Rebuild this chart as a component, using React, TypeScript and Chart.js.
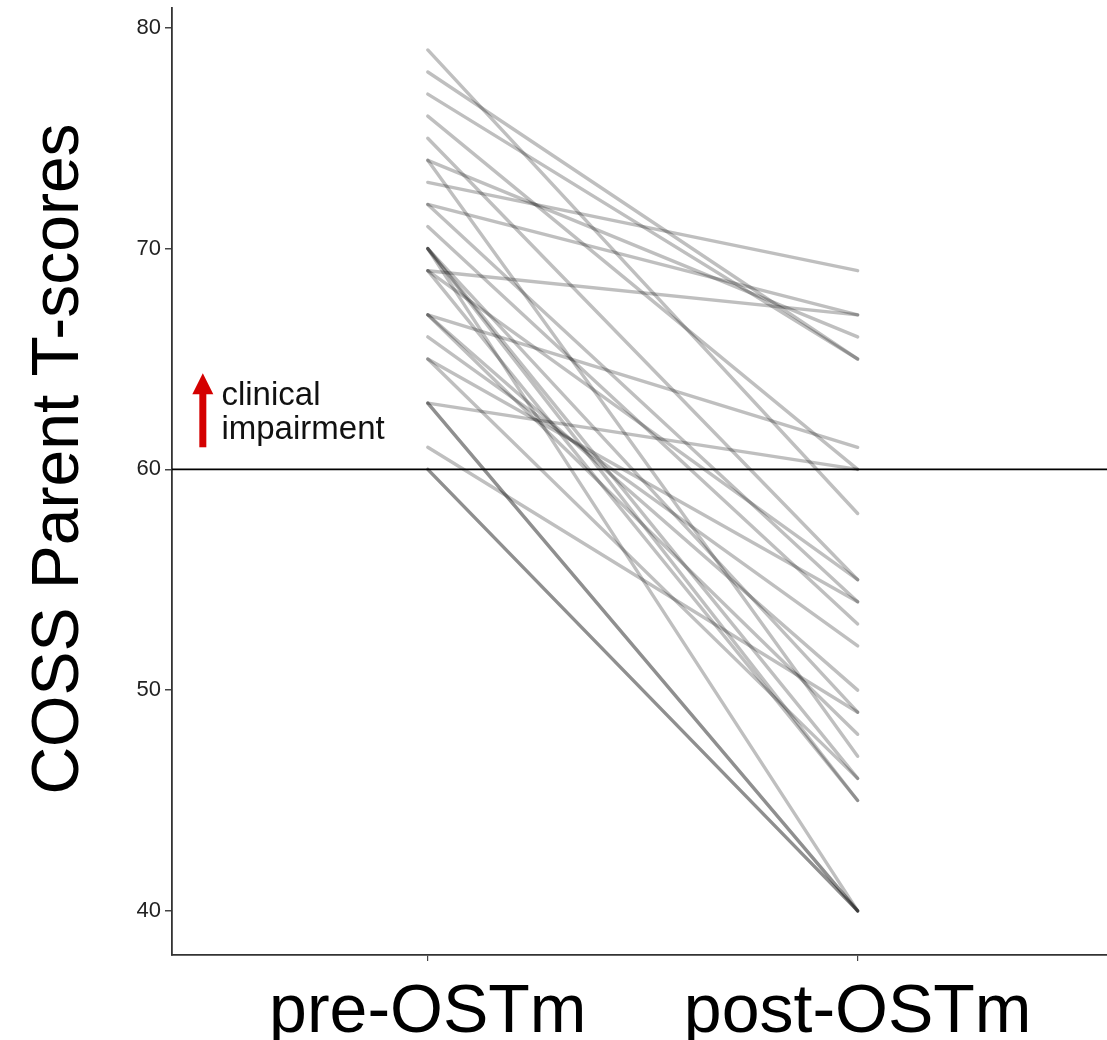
import React, { useEffect, useRef } from 'react';
import { Chart, registerables } from 'chart.js';

Chart.register(...registerables);

const timepoints = ['pre-OSTm', 'post-OSTm'];
const preScores = [79, 78, 77, 76, 75, 74, 74, 73, 72, 72, 71, 70, 70, 70, 70, 69, 69, 69, 67, 67, 67, 66, 65, 65, 63, 63, 63, 61, 60, 60];
const postScores = [58, 65, 65, 60, 55, 66, 47, 69, 54, 67, 53, 40, 49, 46, 45, 67, 45, 55, 61, 48, 50, 52, 54, 46, 40, 40, 60, 49, 40, 40];
const yTickValues = [40, 50, 60, 70, 80];
const clinicalCutoff = 60;
const annotationLines = ['clinical', 'impairment'];
const yTitle = 'COSS Parent T-scores';

const X_MIN = -0.595;
const X_MAX = 1.58;
const Y_MIN = 38.0;
const Y_MAX = 80.9;
const FONT = '"Liberation Sans", Arial, Helvetica, sans-serif';

const annotationPlugin = {
  id: 'annot',
  afterDatasetsDraw(chart: any) {
    const { ctx, scales } = chart;
    const xs = scales.x;
    const ys = scales.y;
    ctx.save();
    const ax = xs.getPixelForValue(-0.5233);
    const yBase = ys.getPixelForValue(61.0);
    const yHeadBase = ys.getPixelForValue(63.4);
    const yTip = ys.getPixelForValue(64.35);
    ctx.fillStyle = '#d40000';
    ctx.fillRect(ax - 3.5, yHeadBase - 1, 7, yBase - yHeadBase + 1);
    ctx.beginPath();
    ctx.moveTo(ax - 10.5, yHeadBase);
    ctx.lineTo(ax + 10.5, yHeadBase);
    ctx.lineTo(ax, yTip);
    ctx.closePath();
    ctx.fill();
    ctx.fillStyle = '#111';
    ctx.font = `33px ${FONT}`;
    ctx.textAlign = 'left';
    ctx.textBaseline = 'alphabetic';
    const tx = xs.getPixelForValue(-0.48);
    ctx.fillText(annotationLines[0], tx, ys.getPixelForValue(62.9));
    ctx.fillText(annotationLines[1], tx, ys.getPixelForValue(61.36));
    ctx.restore();
  },
  afterDraw(chart: any) {
    const { ctx } = chart;
    ctx.save();
    ctx.translate(78, 459);
    ctx.rotate(-Math.PI / 2);
    ctx.fillStyle = '#000';
    ctx.font = `66px ${FONT}`;
    ctx.textAlign = 'center';
    ctx.textBaseline = 'alphabetic';
    ctx.fillText(yTitle, 0, 0);
    ctx.restore();
  },
};

export default function App() {
  const ref = useRef<HTMLCanvasElement>(null);
  useEffect(() => {
    document.body.style.margin = '0';
    const canvas = ref.current!;
    const datasets: any[] = preScores.map((p, i) => ({
      data: [
        { x: 0, y: p },
        { x: 1, y: postScores[i] },
      ],
      borderColor: 'rgba(0,0,0,0.25)',
      borderWidth: 3.4,
      borderCapStyle: 'round',
      pointRadius: 0,
      fill: false,
      order: 1,
    }));
    datasets.push({
      data: [
        { x: X_MIN, y: clinicalCutoff },
        { x: X_MAX, y: clinicalCutoff },
      ],
      borderColor: '#000',
      borderWidth: 1.8,
      pointRadius: 0,
      fill: false,
      order: 0,
    });
    const chart = new Chart(canvas, {
      type: 'line',
      data: { datasets },
      plugins: [annotationPlugin],
      options: {
        animation: false,
        responsive: false,
        maintainAspectRatio: false,
        parsing: false as any,
        layout: { padding: { top: 8, left: 0, right: 0, bottom: 0 } },
        plugins: { legend: { display: false }, tooltip: { enabled: false }, title: { display: false } },
        elements: { line: { tension: 0 } },
        scales: {
          x: {
            type: 'linear',
            min: X_MIN,
            max: X_MAX,
            offset: false,
            afterBuildTicks: (s: any) => {
              s.ticks = [{ value: 0 }, { value: 1 }];
            },
            afterFit: (s: any) => {
              s.height = 85;
              s.paddingLeft = 0;
              s.paddingRight = 0;
            },
            ticks: {
              autoSkip: false,
              maxRotation: 0,
              padding: 11,
              color: '#000',
              font: { family: FONT, size: 68 },
              callback: (v: any) => (v === 0 ? timepoints[0] : v === 1 ? timepoints[1] : ''),
            },
            grid: { drawOnChartArea: false, drawTicks: true, tickLength: 6, color: '#444', lineWidth: 1.2 },
            border: { display: true, color: '#333', width: 1.8 },
          },
          y: {
            type: 'linear',
            min: Y_MIN,
            max: Y_MAX,
            afterBuildTicks: (s: any) => {
              s.ticks = yTickValues.map((v) => ({ value: v }));
            },
            afterFit: (s: any) => {
              s.width = 172;
              s.paddingTop = 0;
              s.paddingBottom = 0;
            },
            ticks: {
              autoSkip: false,
              padding: 4,
              color: '#222',
              font: { family: FONT, size: 22 },
              callback: (v: any) => String(v),
            },
            grid: { drawOnChartArea: false, drawTicks: true, tickLength: 7, color: '#444', lineWidth: 1.5 },
            border: { display: true, color: '#333', width: 1.8 },
          },
        },
      },
    });
    return () => chart.destroy();
  }, []);
  return (
    <div style={{ position: 'absolute', left: 0, top: 0, width: 1107, height: 1040, background: '#fff' }}>
      <canvas ref={ref} width={1107} height={1040} style={{ display: 'block', width: 1107, height: 1040 }} />
    </div>
  );
}
